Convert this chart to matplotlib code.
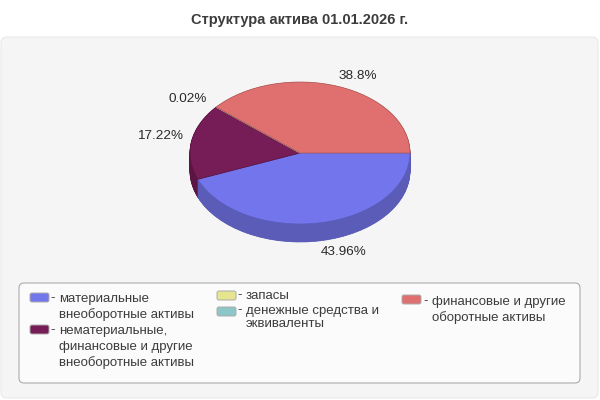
import matplotlib
matplotlib.use('Agg')
import matplotlib.pyplot as plt
from matplotlib.patches import FancyBboxPatch

plt.rcParams['font.family'] = ['Liberation Sans', 'DejaVu Sans']

title = 'Структура актива 01.01.2026 г.'
categories = ['материальные\nвнеоборотные активы',
              'нематериальные,\nфинансовые и другие\nвнеоборотные активы',
              'запасы',
              'денежные средства и\nэквиваленты',
              'финансовые и другие\nоборотные активы']
values = [43.96, 17.22, 0.02, 0.0, 38.8]
colors = ['#7375EC', '#761C56', '#E5E58F', '#8CC6C6', '#E07070']
side_colors = ['#5A5CB8', '#5A1542', '#B2B26F', '#6D9A9A', '#AE5757']
edge_colors = ['#5A5CB8', '#5A1542', '#B2B26F', '#6D9A9A', '#AE5757']

W, H = 600, 400
DEPTH = 18

fig = plt.figure(figsize=(6, 4), dpi=100, facecolor='white')

# background in pixel coords
bg = fig.add_axes([0, 0, 1, 1])
bg.set_xlim(0, W)
bg.set_ylim(H, 0)
bg.axis('off')

bg.add_patch(FancyBboxPatch((6, 42), 587, 351, boxstyle='round,pad=5,rounding_size=6',
                            fc='#F5F5F5', ec='#EBEBEB', lw=0.9))
bg.add_patch(FancyBboxPatch((22, 286), 555, 94, boxstyle='round,pad=3,rounding_size=5',
                            fc='#FBFBFB', ec='#ABABAB', lw=0.8))

bg.text(300, 20, title, ha='center', va='center', fontsize=10.5, fontweight='bold', color='#3C3C3C')

# pie, ellipse comes from the non equal axes box
x0, x1, y0, y1 = 190, 410, 82, 224
ax = fig.add_axes([x0 / W, 1 - y1 / H, (x1 - x0) / W, (y1 - y0) / H])
depth = DEPTH / ((y1 - y0) / 2)
steps = DEPTH * 2
for i in range(steps, 0, -1):
    ax.pie(values, colors=side_colors, startangle=0, counterclock=False,
           center=(0, -depth * i / steps), radius=1,
           wedgeprops=dict(lw=0.5, clip_on=False))
for w in ax.patches:
    w.set_edgecolor(w.get_facecolor())
ax.pie(values, colors=colors, startangle=0, counterclock=False, radius=1,
       wedgeprops=dict(lw=0.5, clip_on=False))
for w, c in zip(ax.patches[-len(values):], edge_colors):
    w.set_edgecolor(c)
ax.set_aspect('auto')
ax.set_xlim(-1, 1)
ax.set_ylim(-1, 1)
ax.axis('off')

# percent labels
label_pos = [(344, 252), (160, 136), (188, 99), None, (358, 76)]
for v, p in zip(values, label_pos):
    if p is not None:
        bg.text(p[0], p[1], f'{v}%', ha='center', va='center', fontsize=9.7, color='#2A2A2A')

# legend
swatch = [(31, 294), (31, 326), (218, 292), (218, 308), (403, 296)]
text_pos = [(59, 299), (59, 331), (246, 296), (246, 311), (432, 302)]
spacing = [1.0, 1.0, 1.0, 0.8, 1.0]
for i, cat in enumerate(categories):
    sx, sy = swatch[i]
    bg.add_patch(FancyBboxPatch((sx, sy), 17, 7, boxstyle='round,pad=1,rounding_size=2',
                                fc=colors[i], ec='#ABABAB', lw=0.7))
    tx, ty = text_pos[i]
    bg.text(tx - 6, ty - 1, '-', ha='center', va='center', fontsize=9.5, color='#3C3C3C')
    for j, line in enumerate(cat.split('\n')):
        bg.text(tx, ty + j * 15.7 * spacing[i], line, ha='left', va='center',
                fontsize=9.5, color='#3C3C3C')

fig.savefig('out.png', dpi=100)
